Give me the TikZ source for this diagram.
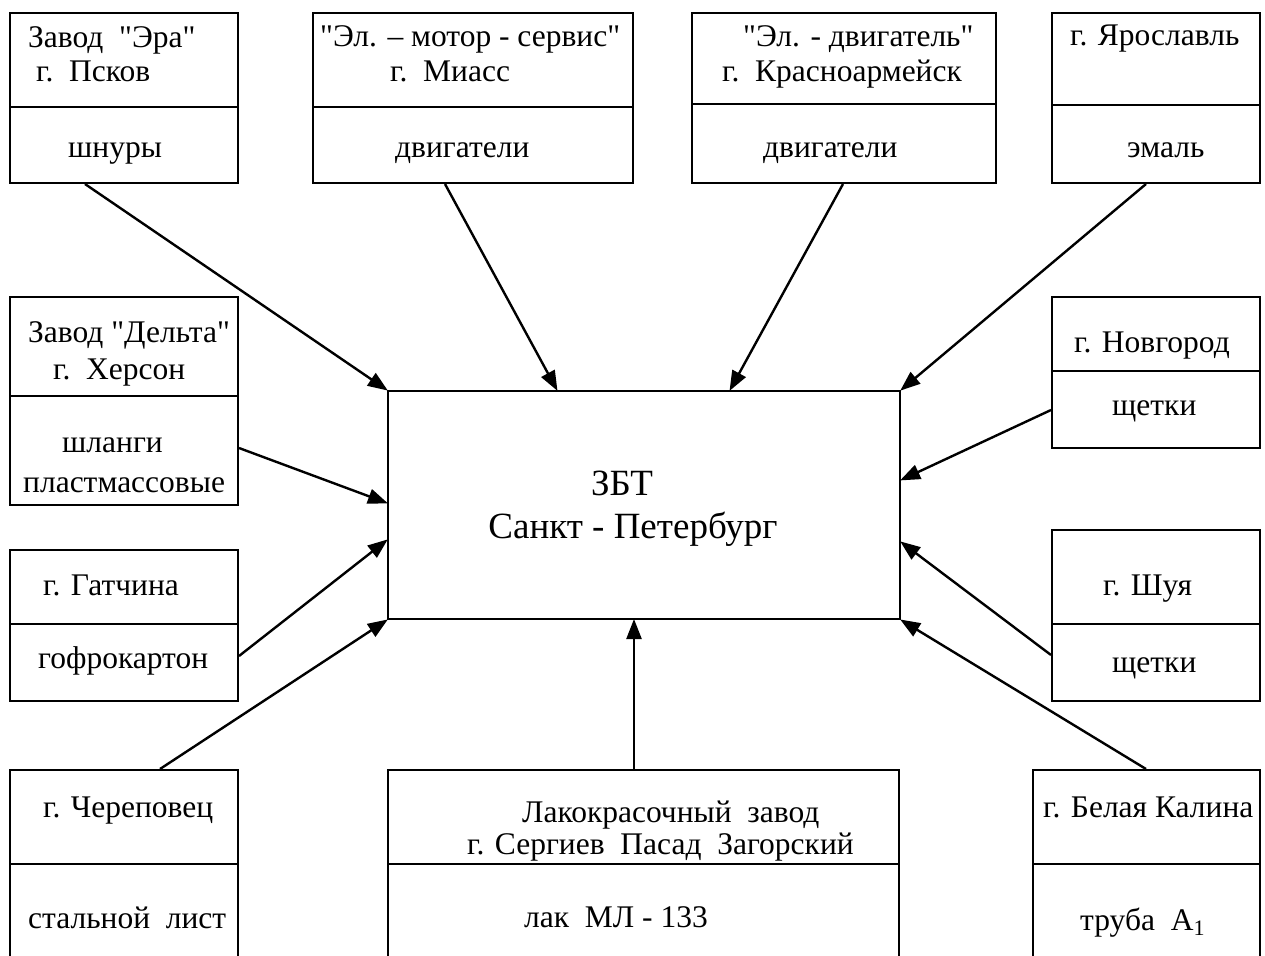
\documentclass[tikz,border=0pt]{standalone}
\usepackage{fontspec}
\setmainfont{Liberation Serif}[Ligatures=TeXOff]
\usetikzlibrary{arrows.meta}
\tikzset{
  box/.style={draw, line width=2pt, anchor=north west, inner sep=0pt, rectangle},
  divline/.style={line width=2pt},
  lbl/.style={anchor=base west, inner sep=0pt, font=\fontsize{31.5}{36}\selectfont},
  biglbl/.style={anchor=base, inner sep=0pt, font=\fontsize{37}{42}\selectfont},
  conn/.style={line width=2.4pt, -{Triangle[length=20pt,width=15pt]}, shorten >=-1pt}
}
\begin{document}
\begin{tikzpicture}[x=1pt,y=-1pt]
\useasboundingbox (0,0) rectangle (1265,955);
\clip (0,0) rectangle (1265,955);
% boxes
\node[box, minimum width=228pt, minimum height=170pt] (era) at (9,12) {};
\node[box, minimum width=320pt, minimum height=170pt] (motor) at (312,12) {};
\node[box, minimum width=304pt, minimum height=170pt] (dvig) at (691,12) {};
\node[box, minimum width=208pt, minimum height=170pt] (yar) at (1051,12) {};
\node[box, minimum width=228pt, minimum height=208pt] (delta) at (9,296) {};
\node[box, minimum width=228pt, minimum height=151pt] (gatch) at (9,549) {};
\node[box, minimum width=228pt, minimum height=230pt] (cherep) at (9,769) {};
\node[box, minimum width=511pt, minimum height=230pt] (lak) at (387,769) {};
\node[box, minimum width=227pt, minimum height=230pt] (bel) at (1032,769) {};
\node[box, minimum width=208pt, minimum height=151pt] (novg) at (1051,296) {};
\node[box, minimum width=208pt, minimum height=171pt] (shuya) at (1051,529) {};
\node[box, minimum width=512pt, minimum height=228pt] (center) at (387,390) {};
% dividers
\draw[divline] ([yshift=-95pt]era.north west) -- ([yshift=-95pt]era.north east);
\draw[divline] ([yshift=-95pt]motor.north west) -- ([yshift=-95pt]motor.north east);
\draw[divline] ([yshift=-92pt]dvig.north west) -- ([yshift=-92pt]dvig.north east);
\draw[divline] ([yshift=-93pt]yar.north west) -- ([yshift=-93pt]yar.north east);
\draw[divline] ([yshift=-100pt]delta.north west) -- ([yshift=-100pt]delta.north east);
\draw[divline] ([yshift=-75pt]gatch.north west) -- ([yshift=-75pt]gatch.north east);
\draw[divline] ([yshift=-95pt]cherep.north west) -- ([yshift=-95pt]cherep.north east);
\draw[divline] ([yshift=-95pt]lak.north west) -- ([yshift=-95pt]lak.north east);
\draw[divline] ([yshift=-95pt]bel.north west) -- ([yshift=-95pt]bel.north east);
\draw[divline] ([yshift=-75pt]novg.north west) -- ([yshift=-75pt]novg.north east);
\draw[divline] ([yshift=-95pt]shuya.north west) -- ([yshift=-95pt]shuya.north east);
% texts
\node[lbl] (t1a) at (28,48) {Завод\ \ "Эра"};
\node[lbl] (t1b) at (36,82) {г.\ \ Псков};
\node[lbl] (t1c) at (68,157) {шнуры};
\node[lbl] (t2a) at (320,47) {"Эл. – мотор - сервис"};
\node[lbl] (t2b) at (390,82) {г.\ \ Миасс};
\node[lbl] (t2c) at (395,157) {двигатели};
\node[lbl] (t3a) at (743,47) {"Эл. - двигатель"};
\node[lbl] (t3b) at (722,82) {г.\ \ Красноармейск};
\node[lbl] (t3c) at (763,157) {двигатели};
\node[lbl] (t4a) at (1070,46) {г. Ярославль};
\node[lbl] (t4c) at (1127,157) {эмаль};
\node[lbl] (t5a) at (28,342) {Завод "Дельта"};
\node[lbl] (t5b) at (53,379) {г.\ \ Херсон};
\node[lbl] (t5c) at (62,452) {шланги};
\node[lbl] (t5d) at (23,492) {пластмассовые};
\node[lbl] (t6a) at (43,595) {г. Гатчина};
\node[lbl] (t6c) at (38,668) {гофрокартон};
\node[lbl] (t7a) at (43,817) {г. Череповец};
\node[lbl] (t7c) at (28,928) {стальной\ \ лист};
\node[lbl] (t8a) at (522,822) {Лакокрасочный\ \ завод};
\node[lbl] (t8b) at (467,854) {г. Сергиев\ \ Пасад\ \ Загорский};
\node[lbl] (t8c) at (524,927) {лак\ \ МЛ - 133};
\node[lbl] (t9a) at (1043,817) {г. Белая Калина};
\node[lbl] (t9c) at (1080,930) {труба\ \ A\textsubscript{1}};
\node[lbl] (t10a) at (1074,352) {г. Новгород};
\node[lbl] (t10c) at (1112,415) {щетки};
\node[lbl] (t11a) at (1103,595) {г. Шуя};
\node[lbl] (t11c) at (1112,672) {щетки};
\node[biglbl] (c1) at (622,495) {ЗБТ};
\node[biglbl] (c2) at (633,538) {Санкт - Петербург};
% connectors
\draw[conn] ([xshift=76pt]era.south west) -- (center.north west);
\draw[conn] ([xshift=133pt]motor.south west) -- ([xshift=170pt]center.north west);
\draw[conn] ([xshift=152pt]dvig.south west) -- ([xshift=343pt]center.north west);
\draw[conn] ([xshift=95pt]yar.south west) -- (center.north east);
\draw[conn] ([yshift=-152pt]delta.north east) -- ([yshift=-113pt]center.north west);
\draw[conn] ([yshift=-107pt]gatch.north east) -- ([yshift=-150pt]center.north west);
\draw[conn] ([xshift=151pt]cherep.north west) -- (center.south west);
\draw[conn] ([xshift=247pt]lak.north west) -- ([xshift=247pt]center.south west);
\draw[conn] ([xshift=114pt]bel.north west) -- (center.south east);
\draw[conn] ([yshift=-126pt]shuya.north west) -- ([yshift=-152pt]center.north east);
\draw[conn] ([yshift=-114pt]novg.north west) -- ([yshift=-90pt]center.north east);
\end{tikzpicture}
\end{document}
